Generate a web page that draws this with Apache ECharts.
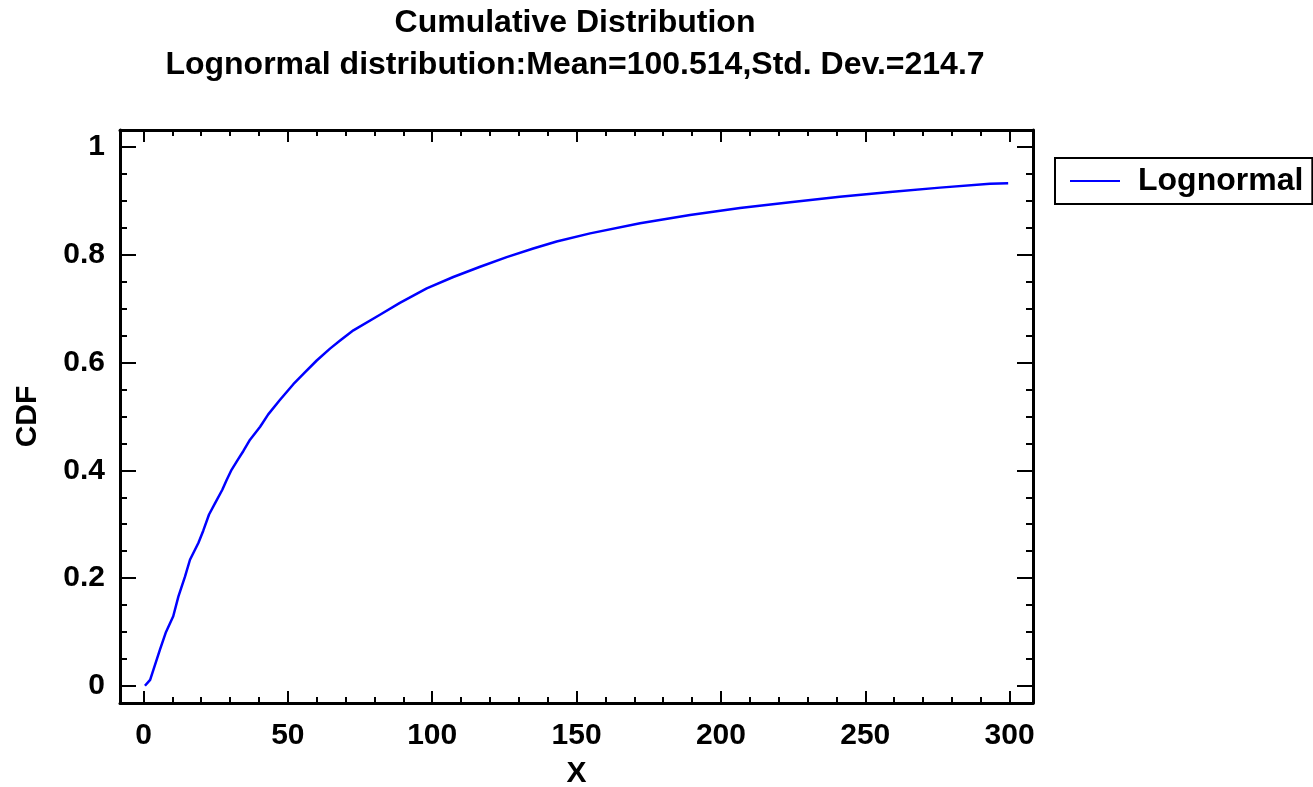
<!DOCTYPE html>
<html>
<head>
<meta charset="utf-8">
<title>Cumulative Distribution</title>
<script src="https://cdn.jsdelivr.net/npm/echarts@6/dist/echarts.min.js"></script>
<style>
  html, body { margin: 0; padding: 0; background: #fff; }
  #chart { width: 1313px; height: 787px; }
</style>
</head>
<body>
<div id="chart"></div>
<script>
// Lognormal CDF curve (X, CDF) sampled along the fitted distribution
const xValues = [0.5, 2.3, 5.7, 7.8, 10.3, 12.1, 14.4, 16.1, 19.0, 20.7, 22.7, 24.8, 27.3, 28.8,
  30.5, 32.8, 34.6, 36.9, 40.4, 43.2, 47.3, 51.9, 55.9, 60.0, 64.6, 68.1, 72.7, 81.9, 88.8,
  98.1, 107.3, 116.6, 125.8, 135.0, 143.1, 154.7, 172.0, 189.3, 206.6, 224.0, 241.2, 258.6,
  275.9, 293.2, 299.5];
const cdfValues = [0.0, 0.011, 0.067, 0.10, 0.129, 0.166, 0.203, 0.234, 0.265, 0.288, 0.318, 0.339,
  0.364, 0.382, 0.401, 0.421, 0.436, 0.457, 0.481, 0.504, 0.531, 0.560, 0.582, 0.604, 0.626,
  0.641, 0.660, 0.689, 0.711, 0.738, 0.759, 0.778, 0.796, 0.812, 0.825, 0.840, 0.859, 0.874,
  0.887, 0.898, 0.908, 0.917, 0.925, 0.932, 0.933];

const xMajorTicks = [0, 50, 100, 150, 200, 250, 300];
const xMinorTicks = [10, 20, 30, 40, 60, 70, 80, 90, 110, 120, 130, 140, 160, 170, 180, 190,
  210, 220, 230, 240, 260, 270, 280, 290];
const yMajorTicks = [0, 0.2, 0.4, 0.6, 0.8, 1];
const yMinorTicks = [0.05, 0.1, 0.15, 0.25, 0.3, 0.35, 0.45, 0.5, 0.55, 0.65, 0.7, 0.75, 0.85, 0.9, 0.95];

const FONT = '"Liberation Sans", Arial, Helvetica, sans-serif';
const X_MIN = -8.14, X_MAX = 308.1;
const Y_MIN = -0.032, Y_MAX = 1.032;

function xAxisDef(pos, values, len, withLine, withLabels) {
  return {
    type: 'value', position: pos, min: X_MIN, max: X_MAX,
    splitLine: { show: false },
    axisLine: { show: withLine, onZero: false, lineStyle: { color: '#000', width: 3 } },
    axisTick: { show: true, inside: true, length: len, customValues: values,
      lineStyle: { color: '#000', width: 2 } },
    axisLabel: withLabels
      ? { show: true, customValues: values, margin: 18, color: '#000',
          fontFamily: FONT, fontWeight: 'bold', fontSize: 30 }
      : { show: false }
  };
}
function yAxisDef(pos, values, len, withLine, withLabels) {
  return {
    type: 'value', position: pos, min: Y_MIN, max: Y_MAX,
    splitLine: { show: false },
    axisLine: { show: withLine, onZero: false, lineStyle: { color: '#000', width: 3 } },
    axisTick: { show: true, inside: true, length: len, customValues: values,
      lineStyle: { color: '#000', width: 2 } },
    axisLabel: withLabels
      ? { show: true, customValues: values, margin: 15, color: '#000',
          fontFamily: FONT, fontWeight: 'bold', fontSize: 30 }
      : { show: false }
  };
}

const xMain = xAxisDef('bottom', xMajorTicks, 12, true, true);
xMain.name = 'X';
xMain.nameLocation = 'middle';
xMain.nameGap = 56;
xMain.nameTextStyle = { color: '#000', fontFamily: FONT, fontWeight: 'bold', fontSize: 30 };

const yMain = yAxisDef('left', yMajorTicks, 16, true, true);
yMain.name = 'CDF';
yMain.nameLocation = 'middle';
yMain.nameGap = 77;
yMain.nameTextStyle = { color: '#000', fontFamily: FONT, fontWeight: 'bold', fontSize: 30 };

const chart = echarts.init(document.getElementById('chart'), null, { renderer: 'canvas' });
chart.setOption({
  backgroundColor: '#fff',
  animation: false,
  title: [
    { text: 'Cumulative Distribution', left: 575, top: 7, padding: 0, textAlign: 'center',
      textStyle: { color: '#000', fontFamily: FONT, fontWeight: 'bold', fontSize: 32 } },
    { text: 'Lognormal distribution:Mean=100.514,Std. Dev.=214.7', left: 575, top: 49, padding: 0,
      textAlign: 'center',
      textStyle: { color: '#000', fontFamily: FONT, fontWeight: 'bold', fontSize: 32 } }
  ],
  legend: {
    left: 1055, top: 158, orient: 'vertical',
    padding: [7, 9, 7, 15],
    borderColor: '#000', borderWidth: 2,
    icon: 'rect', itemWidth: 50, itemHeight: 2,
    textStyle: { color: '#000', fontFamily: FONT, fontWeight: 'bold', fontSize: 32,
      padding: [0, 0, 0, 13] },
    data: ['Lognormal']
  },
  grid: { left: 120, right: 280, top: 130, bottom: 84, containLabel: false, outerBoundsMode: 'none' },
  xAxis: [
    xMain,
    xAxisDef('bottom', xMinorTicks, 6, false, false),
    xAxisDef('top', xMajorTicks, 12, true, false),
    xAxisDef('top', xMinorTicks, 6, false, false)
  ],
  yAxis: [
    yMain,
    yAxisDef('left', yMinorTicks, 7, false, false),
    yAxisDef('right', yMajorTicks, 16, true, false),
    yAxisDef('right', yMinorTicks, 7, false, false)
  ],
  series: [{
    name: 'Lognormal',
    type: 'line',
    xAxisIndex: 0, yAxisIndex: 0,
    symbol: 'none',
    itemStyle: { color: '#0000ff' },
    lineStyle: { color: '#0000ff', width: 2.5, join: 'round' },
    data: xValues.map((x, i) => [x, cdfValues[i]])
  }]
});
</script>
</body>
</html>
